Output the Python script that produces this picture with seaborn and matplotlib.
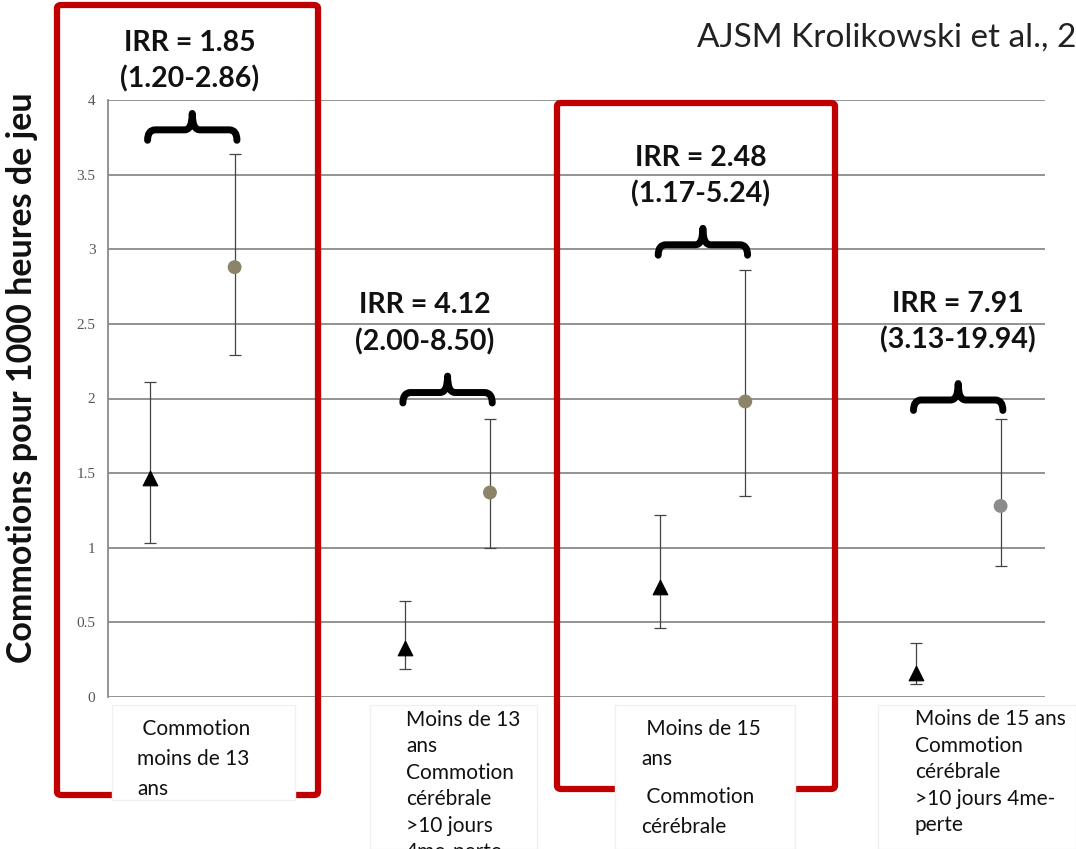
import matplotlib.pyplot as plt
import matplotlib.patches as mpatches
from matplotlib.path import Path
import numpy as np
import pandas as pd
import seaborn as sns

# ---------- data ----------
groups = ["Commotion moins de 13 ans",
          "Moins de 13 ans - commotion >10 jours",
          "Moins de 15 ans",
          "Moins de 15 ans - commotion >10 jours"]
tri_val = [1.47, 0.33, 0.74, 0.16]
tri_lo = [1.03, 0.19, 0.46, 0.09]
tri_hi = [2.11, 0.64, 1.22, 0.36]
circ_val = [2.88, 1.37, 1.98, 1.28]
circ_lo = [2.29, 1.00, 1.35, 0.88]
circ_hi = [3.64, 1.86, 2.86, 1.86]
irr_text = ["IRR = 1.85\n(1.20-2.86)", "IRR = 4.12\n(2.00-8.50)",
            "IRR = 2.48\n(1.17-5.24)", "IRR = 7.91\n(3.13-19.94)"]
yticks = [0, 0.5, 1, 1.5, 2, 2.5, 3, 3.5, 4]
ytick_labels = ["0", "0.5", "1", "1.5", "2", "2.5", "3", "3.5", "4"]
cat_labels = [" Commotion\nmoins de 13\nans",
              "Moins de 13\nans\nCommotion\ncérébrale\n>10 jours\n4me-perte",
              " Moins de 15\nans",
              "Moins de 15 ans\nCommotion\ncérébrale\n>10 jours 4me-\nperte"]
cat_labels_extra = " Commotion\ncérébrale"

# layout of annotations (data coords)
brace_y = [3.80, 2.04, 3.03, 1.99]
irr_x = [-0.01, 0.91, 1.99, 3.00]
irr_y = [4.26, 2.50, 3.49, 2.51]

sns.set_style("white")
plt.rcParams["font.family"] = ["Lato", "DejaVu Sans"]

W, H = 1076, 849
fig = plt.figure(figsize=(W / 100, H / 100), dpi=100)
ax = fig.add_axes([108 / W, 1 - 697 / H, (1045 - 108) / W, 597 / H])


def fx(x):
    return x / W


def fy(y):
    return 1 - y / H


off = 0.166
idx = np.arange(len(groups))
df = pd.DataFrame({
    "x": np.concatenate([idx - off, idx + off]),
    "val": tri_val + circ_val,
    "lo": tri_lo + circ_lo,
    "hi": tri_hi + circ_hi,
    "serie": ["tri"] * 4 + ["circ"] * 4,
})
circ_colors = ["#8b8468", "#8b8468", "#8b8468", "#8c8c8c"]

# error bars
ax.errorbar(df["x"], df["val"],
            yerr=[df["val"] - df["lo"], df["hi"] - df["val"]],
            fmt="none", ecolor="#444444", elinewidth=0.9, capsize=4,
            capthick=0.9, zorder=3)
tri = df[df["serie"] == "tri"]
circ = df[df["serie"] == "circ"]
sns.scatterplot(x=tri["x"], y=tri["val"], marker="^", color="black", s=110,
                edgecolor="black", ax=ax, zorder=4, legend=False)
sns.scatterplot(x=circ["x"], y=circ["val"], marker="o", c=circ_colors, s=100,
                edgecolor="none", ax=ax, zorder=4, legend=False)

ax.set_xlim(-0.33, 3.34)
ax.set_ylim(0, 4)
ax.set_xticks([])
ax.set_yticks(yticks)
ax.set_yticklabels(ytick_labels, family="Liberation Serif", fontsize=11,
                   color="#555555")
ax.tick_params(axis="y", length=6, width=1, color="#888888", pad=3)
ax.set_xlabel("")
ax.set_ylabel("")
for y in yticks:
    ax.axhline(y, color="#8a8a8a", lw=1.3, zorder=1)
for s in ["top", "right", "bottom"]:
    ax.spines[s].set_visible(False)
ax.spines["left"].set_color("#8a8a8a")
ax.spines["left"].set_linewidth(1.3)

fig.text(fx(22), fy(378), "Commotions pour 1000 heures de jeu", rotation=90,
         ha="center", va="center", fontsize=24.5, fontweight="bold",
         color="#111111")


# braces
def brace(ax, xc, y, half=0.175, d=0.07, t=0.11):
    r = 0.03
    x0, x1 = xc - half, xc + half
    verts = [(x0, y - d), (x0, y), (x0 + r, y), (xc - r, y), (xc, y), (xc, y + t),
             (xc, y), (xc + r, y), (x1 - r, y), (x1, y), (x1, y - d)]
    codes = [Path.MOVETO, Path.CURVE3, Path.CURVE3, Path.LINETO, Path.CURVE3,
             Path.CURVE3, Path.CURVE3, Path.CURVE3, Path.LINETO, Path.CURVE3,
             Path.CURVE3]
    p = mpatches.PathPatch(Path(verts, codes), facecolor="none",
                           edgecolor="black", lw=5, capstyle="round",
                           joinstyle="round", zorder=6, clip_on=False)
    ax.add_patch(p)


for i in idx:
    brace(ax, i, brace_y[i])
    ax.text(irr_x[i], irr_y[i], irr_text[i], ha="center", va="center",
            fontsize=20.5, fontweight="bold", color="#111111",
            linespacing=1.45, clip_on=False, zorder=7)

# red boxes (figure pixels)
for (l, t, r, b) in [(57, 5, 318, 795), (557, 103, 835, 789)]:
    rect = mpatches.FancyBboxPatch((fx(l), fy(b)), fx(r) - fx(l), fy(t) - fy(b),
                                   boxstyle="round,pad=0,rounding_size=0.004",
                                   transform=fig.transFigure, facecolor="none",
                                   edgecolor="#c00000", lw=4.5, zorder=5)
    fig.add_artist(rect)

# category label boxes
boxes = [(112, 705, 295, 800), (370, 705, 537, 849), (615, 705, 795, 849),
         (878, 705, 1076, 849)]
for (l, t, r, b) in boxes:
    bx = mpatches.Rectangle((fx(l), fy(b)), fx(r) - fx(l), fy(t) - fy(b),
                            transform=fig.transFigure, facecolor="white",
                            edgecolor="#f0f0f0", lw=1, zorder=8)
    fig.add_artist(bx)

lab_pos = [(137, 719, 1.62), (406, 710, 1.40), (641, 719, 1.62), (915, 709, 1.41)]
for (x, y, ls), txt in zip(lab_pos, cat_labels):
    fig.text(fx(x), fy(y), txt, ha="left", va="top", fontsize=15,
             color="#111111", linespacing=ls, zorder=9)
fig.text(fx(641), fy(787), cat_labels_extra, ha="left", va="top",
         fontsize=15, color="#111111", linespacing=1.62, zorder=9)

fig.text(fx(697), fy(38), "AJSM Krolikowski et al., 2017", ha="left",
         va="center", fontsize=24, color="#222222")

fig.savefig("out.png", dpi=100)
